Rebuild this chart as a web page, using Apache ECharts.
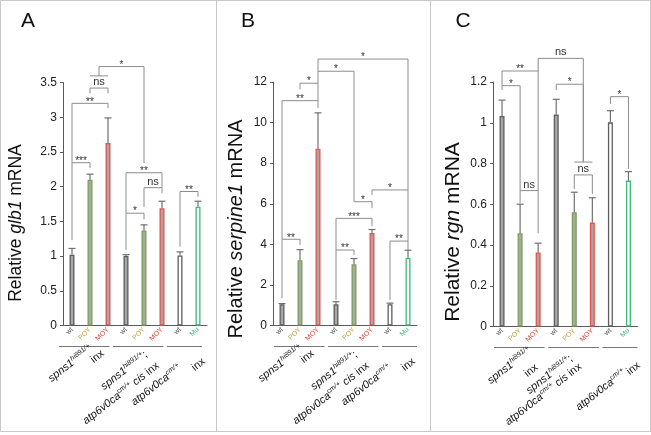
<!DOCTYPE html>
<html><head><meta charset="utf-8">
<script src="https://cdn.jsdelivr.net/npm/echarts@6/dist/echarts.min.js"></script>
<style>html,body{margin:0;padding:0;background:#fff}#c{width:651px;height:435px}</style>
</head><body><div id="c"></div>
<script>
// ---------------- data ----------------
const categories = ['wt', 'POY', 'MOY', 'wt', 'POY', 'MOY', 'wt', 'Mu'];
const groups = [[0, 2], [3, 5], [6, 7]];

const glb1     = [1.02, 2.10, 2.63, 1.00, 1.37, 1.69, 1.01, 1.71];
const glb1Err  = [0.09, 0.08, 0.36, 0.02, 0.08, 0.10, 0.05, 0.08];
const serpine1    = [1.05, 3.22, 8.71, 1.05, 3.02, 4.56, 1.05, 3.33];
const serpine1Err = [0.03, 0.52, 1.77, 0.12, 0.28, 0.17, 0.05, 0.38];
const rgn     = [1.033, 0.458, 0.363, 1.040, 0.561, 0.510, 1.002, 0.716];
const rgnErr  = [0.078, 0.142, 0.046, 0.075, 0.098, 0.122, 0.057, 0.044];

const yTicksA = {max: 3.5, interval: 0.5};
const yTicksB = {max: 12, interval: 2};
const yTicksC = {max: 1.2, interval: 0.2};

// significance brackets: [leftIndex, rightIndex, topValue, leftLegBottom, rightLegBottom, label]
const bracketsA = [
  [0, 1, 2.345, 1.23, 2.27, '***'],
  [0, 2, 3.20, 2.345, 3.13, '**'],
  [1, 2, 3.42, 3.345, 3.345, 'ns'],
  [1, 2, 3.595, 3.595, 3.595, ''],
  [1.5, 4, 3.73, 3.595, 2.34, '*'],
  [3, 5, 2.20, 1.62, 1.985, '**'],
  [4, 5, 1.985, 1.71, 1.905, 'ns'],
  [3, 4, 1.617, 1.088, 1.53, '*'],
  [6, 7, 1.93, 1.135, 1.855, '**']
];
const bracketsB = [
  [0, 1, 4.25, 1.34, 3.97, '**'],
  [0, 2, 11.08, 4.25, 10.72, '**'],
  [1, 2, 11.94, 11.64, 11.08, '*'],
  [2, 4, 12.53, 11.94, 6.10, '*'],
  [2, 7, 13.13, 12.53, 4.16, '*'],
  [4, 5, 6.10, 6.10, 5.78, '*'],
  [3, 5, 5.28, 3.72, 4.90, '***'],
  [3, 4, 3.72, 1.26, 3.47, '**'],
  [5, 7, 6.68, 6.43, 6.68, '*'],
  [6, 7, 4.16, 1.26, 3.72, '**']
];
const bracketsC = [
  [0, 1, 1.182, 1.161, 0.667, '*'],
  [0, 2, 1.254, 1.182, 0.667, '**'],
  [1, 2, 0.667, 0.605, 0.457, 'ns'],
  [2, 4.5, 1.316, 1.254, 0.807, 'ns'],
  [4, 5, 0.807, 0.807, 0.807, ''],
  [3, 4.5, 1.189, 1.161, 0.807, '*'],
  [4, 5, 0.744, 0.675, 0.650, 'ns'],
  [6, 7, 1.128, 1.092, 0.773, '*']
];

// ---------------- styles ----------------
const FONT = 'Liberation Sans, Arial, Helvetica, sans-serif';
const catColors = ['#555555', '#c4a449', '#e8463c', '#555555', '#c4a449', '#e8463c', '#555555', '#3dba7a'];
const barFill   = ['#a6a6a6', '#a6ad9c', '#a6a6a6', '#a6a6a6', '#a6ad9c', '#a6a6a6', '#ffffff', '#ffffff'];
const barStroke = ['#5e5e5e', '#7b9d5c', '#e5534b', '#5e5e5e', '#7b9d5c', '#e5534b', '#5e5e5e', '#3dba7a'];
const AXIS = '#5a5a5a', BRK = '#8c8c8c', ERR = '#707070';

// group label anchors: [dx from group's right boundary, dy below x axis, align]
const layoutAB = [
  [[-26, 22, 'right'], [-19.5, 31, 'center']],
  [[-25, 28, 'right'], [-13, 39, 'right']],
  [[-27, 41, 'right'], [-8.5, 39, 'center']]
];
const layoutC = [
  [[-17, 23, 'right'], [-16, 44, 'center']],
  [[-30, 31, 'right'], [-21, 39, 'right']],
  [[-13, 45, 'right'], [-4, 42, 'center']]
];

const panels = [
  {letter: 'A', gene: 'glb1', vals: glb1, err: glb1Err, ticks: yTicksA, br: bracketsA,
   grid: {left: 63, top: 82.5, width: 144, height: 243}, title: [16, 223, 17.5], letterPos: [28, 21], gshift: -5, lab: layoutAB},
  {letter: 'B', gene: 'serpine1', vals: serpine1, err: serpine1Err, ticks: yTicksB, br: bracketsB,
   grid: {left: 273, top: 82, width: 144, height: 243.5}, title: [236, 229, 20], letterPos: [248, 21], gshift: 0, lab: layoutAB},
  {letter: 'C', gene: 'rgn', vals: rgn, err: rgnErr, ticks: yTicksC, br: bracketsC,
   grid: {left: 493, top: 82, width: 144.5, height: 244.5}, title: [453, 232, 21], letterPos: [463, 21], gshift: 0, lab: layoutC}
];

const groupText = [
  ['{i|spns1}{s|hi891/+}', '{n|inx}'],
  ['{i|spns1}{s|hi891/+}{n|;}', '{i|atp6v0ca}{s|cm/+}{n| }{i|cis}{n| inx}'],
  ['{i|atp6v0ca}{s|cm/+}', '{n|inx}']
];
const richG = {
  n: {fontSize: 11, fontFamily: FONT, fill: '#111', lineHeight: 13},
  i: {fontSize: 11, fontFamily: FONT, fontStyle: 'italic', fill: '#111', lineHeight: 13},
  s: {fontSize: 7, fontFamily: FONT, fontStyle: 'italic', fill: '#111', lineHeight: 13, verticalAlign: 'top', padding: [0, 0, 5, 0]}
};

function pxOf(api, x) {
  const c0 = api.coord([0, 0])[0], c1 = api.coord([1, 0])[0];
  return c0 + (c1 - c0) * x;
}
function pyOf(api, v) { return api.coord([0, v])[1]; }

const option = {
  animation: false,
  backgroundColor: '#ffffff',
  grid: [], xAxis: [], yAxis: [], series: [],
  graphic: []
};

panels.forEach((p, k) => {
  option.grid.push(Object.assign({containLabel: false}, p.grid));
  option.xAxis.push({
    gridIndex: k, type: 'category', data: categories,
    axisLine: {lineStyle: {color: AXIS, width: 1}},
    axisTick: {length: 3, lineStyle: {color: AXIS}},
    axisLabel: {interval: 0, rotate: 45, fontSize: 7, margin: 3, fontFamily: FONT,
      color: (v, i) => catColors[i]},
    splitLine: {show: false}
  });
  option.yAxis.push({
    gridIndex: k, type: 'value', min: 0, max: p.ticks.max, interval: p.ticks.interval,
    axisLine: {show: true, lineStyle: {color: AXIS, width: 1}},
    axisTick: {show: true, length: 3, lineStyle: {color: AXIS}},
    axisLabel: {fontSize: 12, color: '#222', margin: 6, fontFamily: FONT},
    splitLine: {show: false}
  });
  option.series.push({
    type: 'bar', xAxisIndex: k, yAxisIndex: k, barWidth: 5, z: 2,
    data: p.vals.map((v, i) => ({value: v, itemStyle: {color: barFill[i], borderColor: barStroke[i], borderWidth: 1.3}}))
  });
  option.series.push({
    type: 'custom', xAxisIndex: k, yAxisIndex: k, z: 3, clip: false,
    data: p.vals.map((v, i) => [i, v, v + p.err[i]]),
    renderItem: (params, api) => {
      const a = api.coord([api.value(0), api.value(1)]);
      const b = api.coord([api.value(0), api.value(2)]);
      return {type: 'group', children: [
        {type: 'line', shape: {x1: a[0], y1: a[1], x2: b[0], y2: b[1]}, style: {stroke: ERR, lineWidth: 1.2}},
        {type: 'line', shape: {x1: b[0] - 3.5, y1: b[1], x2: b[0] + 3.5, y2: b[1]}, style: {stroke: ERR, lineWidth: 1.2}}
      ]};
    }
  });
  option.series.push({
    type: 'custom', xAxisIndex: k, yAxisIndex: k, z: 4, clip: false,
    data: p.br.map(b => [0, b[2]]),
    renderItem: (params, api) => {
      const b = p.br[params.dataIndex];
      const x1 = pxOf(api, b[0]), x2 = pxOf(api, b[1]);
      const yt = pyOf(api, b[2]), yl = pyOf(api, b[3]), yr = pyOf(api, b[4]);
      const children = [{type: 'polyline', shape: {points: [[x1, yl], [x1, yt], [x2, yt], [x2, yr]]},
        style: {stroke: BRK, lineWidth: 1, fill: null}}];
      if (b[5]) {
        const isNs = b[5] === 'ns';
        children.push({type: 'text', x: (x1 + x2) / 2, y: yt - (isNs ? 6 : 1.5),
          style: {text: b[5], fontSize: isNs ? 11 : 10, fontFamily: FONT, fill: '#333',
            align: 'center', verticalAlign: 'middle'}});
      }
      return {type: 'group', children};
    }
  });
  option.series.push({
    type: 'custom', xAxisIndex: k, yAxisIndex: k, z: 4, clip: false,
    data: groups.map(g => [g[0], 0]),
    renderItem: (params, api) => {
      const gi = params.dataIndex, g = groups[gi];
      const xl = pxOf(api, g[0] - 0.5), xr = pxOf(api, g[1] + 0.5);
      const y0 = pyOf(api, 0);
      const last = gi === groups.length - 1;
      const children = [{type: 'line',
        shape: {x1: xl + 1 + p.gshift, y1: y0 + 21, x2: xr + (last ? 0 : -2.5) + p.gshift, y2: y0 + 21},
        style: {stroke: '#777', lineWidth: 1}}];
      groupText[gi].forEach((t, li) => {
        const pos = p.lab[gi][li];
        children.push({type: 'text', x: xr + pos[0], y: y0 + pos[1], rotation: 38 * Math.PI / 180,
          style: {text: t, rich: richG, align: pos[2], verticalAlign: 'middle'}});
      });
      return {type: 'group', children};
    }
  });
  const fs = p.title[2];
  option.graphic.push({type: 'text', x: p.title[0], y: p.title[1], rotation: Math.PI / 2,
    style: {text: '{n|Relative }{i|' + p.gene + '}{n| mRNA}', align: 'center', verticalAlign: 'middle',
      rich: {n: {fontSize: fs, fontFamily: FONT, fill: '#111'}, i: {fontSize: fs, fontFamily: FONT, fontStyle: 'italic', fill: '#111'}}}});
  option.graphic.push({type: 'text', x: p.letterPos[0], y: p.letterPos[1],
    style: {text: p.letter, fontSize: 21, fontFamily: FONT, fill: '#111', align: 'center', verticalAlign: 'middle'}});
});

option.graphic.push({type: 'rect', shape: {x: 0.5, y: 0.5, width: 650, height: 431}, style: {fill: null, stroke: '#c8c8c8', lineWidth: 1}, z: -1});
option.graphic.push({type: 'line', shape: {x1: 216.5, y1: 0.5, x2: 216.5, y2: 431.5}, style: {stroke: '#c8c8c8', lineWidth: 1}});
option.graphic.push({type: 'line', shape: {x1: 430.5, y1: 0.5, x2: 430.5, y2: 431.5}, style: {stroke: '#c8c8c8', lineWidth: 1}});

const chart = echarts.init(document.getElementById('c'), null, {renderer: 'canvas'});
chart.setOption(option);
</script></body></html>
